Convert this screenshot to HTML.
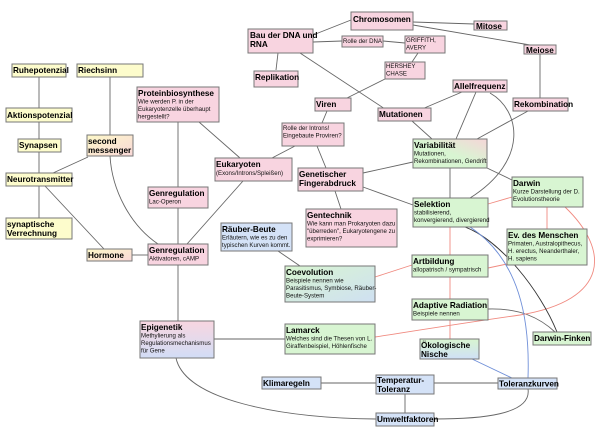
<!DOCTYPE html>
<html><head><meta charset="utf-8"><style>
html,body{margin:0;padding:0;background:#fff;}
svg{display:block;font-family:"Liberation Sans",Arial,sans-serif;}
.t{font-size:8.2px;font-weight:bold;fill:#000;}
.s{font-size:6.1px;fill:#111;}
rect{stroke:#777;stroke-width:1;}
.l{stroke:#666;stroke-width:0.9;fill:none;}
.r{stroke:#f08a80;stroke-width:0.9;fill:none;}
.b{stroke:#6f8fd8;stroke-width:0.9;fill:none;}
.k{stroke:#333;stroke-width:0.9;fill:none;}
</style></head><body>
<svg width="600" height="432" viewBox="0 0 600 432" xmlns="http://www.w3.org/2000/svg">
<defs>
<linearGradient id="pg" x1="1" y1="0" x2="0" y2="1"><stop offset="0" stop-color="#f6d6d8"/><stop offset="0.5" stop-color="#d8f5d2"/><stop offset="1" stop-color="#d8f5d2"/></linearGradient>
<linearGradient id="yp" x1="0" y1="0" x2="1" y2="1"><stop offset="0" stop-color="#fdf8c8"/><stop offset="1" stop-color="#f9d8d8"/></linearGradient>
<linearGradient id="pb" x1="0" y1="0" x2="0" y2="1"><stop offset="0" stop-color="#f8d6e0"/><stop offset="1" stop-color="#d2ddf6"/></linearGradient>
<linearGradient id="gb" x1="0" y1="0" x2="0" y2="1"><stop offset="0" stop-color="#d8f5d0"/><stop offset="1" stop-color="#d0e0f6"/></linearGradient>
<linearGradient id="gb2" x1="0" y1="0" x2="1" y2="1"><stop offset="0" stop-color="#d8f5d0"/><stop offset="1" stop-color="#cfe0f2"/></linearGradient>
</defs>

<path class="l" d="M351 20 L313 35"/>
<path class="l" d="M413 22 L474 24"/>
<path class="l" d="M413 25 L530 45"/>
<path class="l" d="M313 42 L342 41"/>
<path class="l" d="M383 41 L405 43"/>
<path class="l" d="M418 53 L412 62"/>
<path class="l" d="M387 78 L347 98"/>
<path class="l" d="M278 53 L276 70"/>
<path class="l" d="M300 53 L385 109"/>
<path class="l" d="M540 54 L540 98"/>
<path class="l" d="M462 92 L422 109"/>
<path class="l" d="M476 92 L456 139"/>
<path class="l" d="M490 93 C520 110 530 160 470 198"/>
<path class="l" d="M528 111 L477 139"/>
<path class="l" d="M412 121 L432 139"/>
<path class="l" d="M327 111 L322 123"/>
<path class="l" d="M295 146 L272 158"/>
<path class="l" d="M317 146 L326 168"/>
<path class="l" d="M363 173 L413 162"/>
<path class="l" d="M363 187 L413 205"/>
<path class="l" d="M335 191 L341 209"/>
<path class="l" d="M450 168 L450 198"/>
<path class="l" d="M487 168 L512 180"/>
<path class="l" d="M178 122 L178 187"/>
<path class="l" d="M199 122 L240 158"/>
<path class="l" d="M243 181 L187 244"/>
<path class="l" d="M178 208 L178 244"/>
<path class="l" d="M110 156 C112 190 130 225 158 244"/>
<path class="l" d="M110 77 L110 135"/>
<path class="l" d="M39 77 L39 108"/>
<path class="l" d="M39 122 L39 139"/>
<path class="l" d="M39 152 L39 173"/>
<path class="l" d="M53 173 L88 157"/>
<path class="l" d="M39 186 L39 218"/>
<path class="l" d="M45 186 L104 249"/>
<path class="l" d="M132 255 L148 255"/>
<path class="l" d="M178 265 L178 321"/>
<path class="l" d="M214 339 L285 339"/>
<path class="l" d="M176 358 C185 400 280 418 376 419"/>
<path class="l" d="M278 251 L300 266"/>
<path class="l" d="M321 383 L376 383"/>
<path class="l" d="M434 383 L498 383"/>
<path class="l" d="M405 394 L405 413"/>
<path class="l" d="M528 389 C532 415 480 419 434 419"/>
<path class="l" d="M488 309 C520 308 540 318 555 332"/>
<path class="r" d="M488 204 L512 197"/>
<path class="r" d="M547 207 L547 229"/>
<path class="r" d="M565 207 C610 250 610 300 520 315 C470 322 420 330 375 337"/>
<path class="r" d="M450 227 L450 339"/>
<path class="r" d="M488 268 L507 264"/>
<path class="r" d="M412 265 L375 277"/>
<path class="k" d="M465 227 C500 240 540 290 557 332"/>
<path class="b" d="M470 227 C520 260 530 320 528 378"/>
<path class="b" d="M472 359 L512 378"/>

<g>
<rect x="351" y="12" width="62" height="18" fill="#f8d4e0"/><text class="t" x="353" y="22">Chromosomen</text>
<rect x="474" y="21" width="33" height="9" fill="#f8d4e0"/><text class="t" x="476" y="29">Mitose</text>
<rect x="248" y="29" width="65" height="24" fill="#f8d4e0"/><text class="t" x="250" y="38">Bau der DNA und</text><text class="t" x="250" y="47">RNA</text>
<rect x="342" y="36" width="41" height="11" fill="#f8d4e0"/><text class="s" x="343" y="43">Rolle der DNA</text>
<rect x="405" y="36" width="40" height="17" fill="#f8d4e0"/><text class="s" x="406" y="42">GRIFFITH,</text><text class="s" x="406" y="49.5">AVERY</text>
<rect x="385" y="62" width="40" height="17" fill="#f8d4e0"/><text class="s" x="386" y="68">HERSHEY</text><text class="s" x="386" y="75.5">CHASE</text>
<rect x="524" y="45" width="32" height="9" fill="#f8d4e0"/><text class="t" x="526" y="53">Meiose</text>
<rect x="254" y="71" width="44" height="16" fill="#f8d4e0"/><text class="t" x="255" y="80">Replikation</text>
<rect x="453" y="80" width="54" height="12" fill="#f8d4e0"/><text class="t" x="454" y="89">Allelfrequenz</text>
<rect x="315" y="98" width="36" height="13" fill="#f8d4e0"/><text class="t" x="316" y="107">Viren</text>
<rect x="513" y="98" width="55" height="13" fill="#f8d4e0"/><text class="t" x="514" y="107">Rekombination</text>
<rect x="378" y="108" width="53" height="13" fill="#f8d4e0"/><text class="t" x="379" y="117">Mutationen</text>
<rect x="282" y="123" width="62" height="23" fill="#f8d4e0"/><text class="s" x="283" y="130">Rolle der Introns!</text><text class="s" x="283" y="137.5">Eingebaute Proviren?</text>
<rect x="413" y="139" width="74" height="29" fill="url(#pg)"/><text class="t" x="414" y="148">Variabilität</text><text class="s" x="414" y="155.5">Mutationen,</text><text class="s" x="414" y="163">Rekombinationen, Gendrift</text>
<rect x="512" y="177" width="71" height="30" fill="#d8f5d2"/><text class="t" x="513" y="186">Darwin</text><text class="s" x="513" y="193.5">Kurze Darstellung der D.</text><text class="s" x="513" y="201">Evolutionstheorie</text>
<rect x="298" y="168" width="65" height="23" fill="#f8d4e0"/><text class="t" x="299" y="177">Genetischer</text><text class="t" x="299" y="186">Fingerabdruck</text>
<rect x="215" y="158" width="77" height="23" fill="#f8d4e0"/><text class="t" x="216" y="167">Eukaryoten</text><text class="s" x="216" y="175">(Exons/Introns/Spleißen)</text>
<rect x="413" y="198" width="75" height="29" fill="#d8f5d2"/><text class="t" x="414" y="207">Selektion</text><text class="s" x="414" y="214.5">stabilisierend,</text><text class="s" x="414" y="222">konvergierend, divergierend</text>
<rect x="306" y="209" width="91" height="38" fill="#f8d4e0"/><text class="t" x="307" y="218">Gentechnik</text><text class="s" x="307" y="225.5">Wie kann man Prokaryoten dazu</text><text class="s" x="307" y="233">"überreden", Eukaryotengene zu</text><text class="s" x="307" y="240.5">exprimieren?</text>
<rect x="507" y="229" width="80" height="36" fill="#d8f5d2"/><text class="t" x="508" y="238">Ev. des Menschen</text><text class="s" x="508" y="245.5">Primaten, Australopithecus,</text><text class="s" x="508" y="253">H. erectus, Neanderthaler,</text><text class="s" x="508" y="260.5">H. sapiens</text>
<rect x="221" y="223" width="71" height="28" fill="#d4e2f7"/><text class="t" x="222" y="232">Räuber-Beute</text><text class="s" x="222" y="239.5">Erläutern, wie es zu den</text><text class="s" x="222" y="247">typischen Kurven kommt.</text>
<rect x="412" y="255" width="76" height="22" fill="#d8f5d2"/><text class="t" x="413" y="264">Artbildung</text><text class="s" x="413" y="271.5">allopatrisch / sympatrisch</text>
<rect x="285" y="266" width="90" height="36" fill="url(#gb2)"/><text class="t" x="286" y="275">Coevolution</text><text class="s" x="286" y="282.5">Beispiele nennen wie</text><text class="s" x="286" y="290">Parasitismus, Symbiose, Räuber-</text><text class="s" x="286" y="297.5">Beute-System</text>
<rect x="412" y="299" width="76" height="21" fill="#d8f5d2"/><text class="t" x="413" y="308">Adaptive Radiation</text><text class="s" x="413" y="315.5">Beispiele nennen</text>
<rect x="285" y="324" width="90" height="30" fill="#d8f5d2"/><text class="t" x="286" y="333">Lamarck</text><text class="s" x="286" y="340.5">Welches sind die Thesen von L.</text><text class="s" x="286" y="348">Giraffenbeispiel, Höhlenfische</text>
<rect x="533" y="332" width="58" height="13" fill="#d8f5d2"/><text class="t" x="534" y="341">Darwin-Finken</text>
<rect x="420" y="339" width="59" height="20" fill="url(#gb)"/><text class="t" x="421" y="348">Ökologische</text><text class="t" x="421" y="357">Nische</text>
<rect x="262" y="377" width="59" height="12" fill="#d4e2f7"/><text class="t" x="263" y="386">Klimaregeln</text>
<rect x="376" y="375" width="58" height="19" fill="#d4e2f7"/><text class="t" x="377" y="383">Temperatur-</text><text class="t" x="377" y="392">Toleranz</text>
<rect x="498" y="378" width="59" height="11" fill="#d4e2f7"/><text class="t" x="499" y="386.5">Toleranzkurven</text>
<rect x="376" y="413" width="58" height="13" fill="#d4e2f7"/><text class="t" x="377" y="422">Umweltfaktoren</text>
<rect x="140" y="321" width="74" height="37" fill="url(#pb)"/><text class="t" x="141" y="330">Epigenetik</text><text class="s" x="141" y="337.5">Methylierung als</text><text class="s" x="141" y="345">Regulationsmechanismus</text><text class="s" x="141" y="352.5">für Gene</text>
<rect x="148" y="244" width="60" height="21" fill="#f8d4e0"/><text class="t" x="149" y="253">Genregulation</text><text class="s" x="149" y="260.5">Aktivatoren, cAMP</text>
<rect x="87" y="249" width="45" height="12" fill="url(#yp)"/><text class="t" x="88" y="258">Hormone</text>
<rect x="6" y="218" width="66" height="21" fill="#fdfccc"/><text class="t" x="7" y="227">synaptische</text><text class="t" x="7" y="236">Verrechnung</text>
<rect x="12" y="64" width="54" height="13" fill="#fdfccc"/><text class="t" x="13" y="73">Ruhepotenzial</text>
<rect x="77" y="64" width="66" height="13" fill="#fdfccc"/><text class="t" x="78" y="73">Riechsinn</text>
<rect x="6" y="108" width="66" height="14" fill="#fdfccc"/><text class="t" x="7" y="118">Aktionspotenzial</text>
<rect x="18" y="139" width="43" height="13" fill="#fdfccc"/><text class="t" x="19" y="148">Synapsen</text>
<rect x="87" y="135" width="46" height="21" fill="url(#yp)"/><text class="t" x="88" y="144">second</text><text class="t" x="88" y="153">messenger</text>
<rect x="6" y="173" width="66" height="13" fill="#fdfccc"/><text class="t" x="7" y="182">Neurotransmitter</text>
<rect x="137" y="87" width="82" height="35" fill="#f8d4e0"/><text class="t" x="138" y="96">Proteinbiosynthese</text><text class="s" x="138" y="103.5">Wie werden P. in der</text><text class="s" x="138" y="111">Eukaryotenzelle überhaupt</text><text class="s" x="138" y="118.5">hergestellt?</text>
<rect x="148" y="187" width="60" height="21" fill="#f8d4e0"/><text class="t" x="149" y="196">Genregulation</text><text class="s" x="149" y="203.5">Lac-Operon</text>
</g>
</svg>
</body></html>
